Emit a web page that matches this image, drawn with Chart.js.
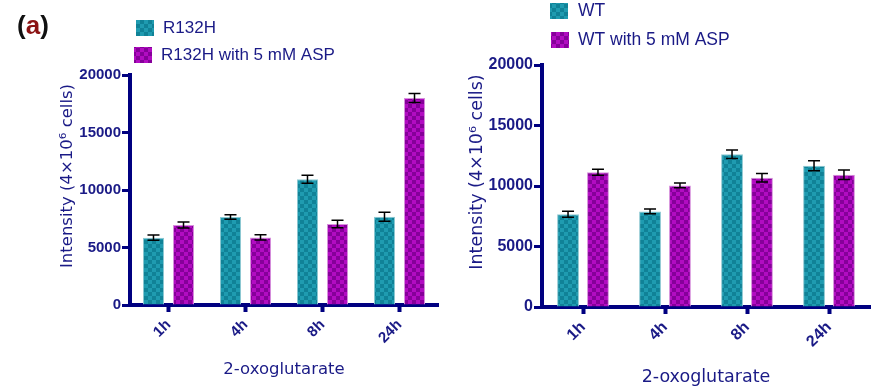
<!DOCTYPE html>
<html>
<head>
<meta charset="utf-8">
<script src="https://cdn.jsdelivr.net/npm/chart.js@4.4.1/dist/chart.umd.min.js"></script>
<style>
  html, body { margin: 0; padding: 0; background: #ffffff; }
  #wrap { position: relative; width: 877px; height: 386px; overflow: hidden; }
  #wrap canvas { position: absolute; top: 0; }
  #panel { position: absolute; left: 17px; top: 10px; font: bold 26px "Liberation Sans", Arial, sans-serif; color: #111111; }
  #panel span { color: #8b1212; }
</style>
</head>
<body>
<div id="wrap">
  <canvas id="chartMutant" width="440" height="386" style="left:0px"></canvas>
  <canvas id="chartWild" width="437" height="386" style="left:440px"></canvas>
  <div id="panel">(<span>a</span>)</div>
</div>
<script>
// ---- data ----
const timePoints = ['1h', '4h', '8h', '24h'];

const r132h       = [5850, 7650, 10930, 7680];
const r132hErr    = [230, 200, 350, 390];
const r132hAsp    = [6950, 5880, 7040, 18000];
const r132hAspErr = [260, 220, 320, 390];

const wt          = [7670, 7900, 12620, 11670];
const wtErr       = [250, 200, 350, 410];
const wtAsp       = [11130, 10050, 10680, 10930];
const wtAspErr    = [250, 200, 350, 400];

const yMax = 20000;
const yStep = 5000;
const xTitle = '2-oxoglutarate';
const yTitle = 'Intensity (4\u00d710\u2076 cells)';

// ---- styling ----
const NAVY = '#000080';
const TEXT = '#1a1a86';

function checker(c1, c2, size) {
  const cv = document.createElement('canvas');
  cv.width = cv.height = size * 2;
  const g = cv.getContext('2d');
  g.fillStyle = c1; g.fillRect(0, 0, size * 2, size * 2);
  g.fillStyle = c2; g.fillRect(0, 0, size, size); g.fillRect(size, size, size, size);
  return g.createPattern(cv, 'repeat');
}
const tealFill = checker('#1f9bb0', '#108297', 4);
const magentaFill = checker('#b20cc2', '#86009a', 4);

// error bars (mean ± error) drawn through the value scale
const errorBarPlugin = {
  id: 'errorBars',
  afterDatasetsDraw(chart) {
    const ctx = chart.ctx;
    const ys = chart.scales.y;
    ctx.save();
    ctx.strokeStyle = '#000000';
    ctx.lineWidth = 1.5;
    chart.data.datasets.forEach((ds, i) => {
      const meta = chart.getDatasetMeta(i);
      meta.data.forEach((bar, j) => {
        const v = ds.data[j], e = ds.errorBars[j];
        const top = ys.getPixelForValue(v + e);
        const bot = ys.getPixelForValue(v - e);
        const x = bar.x, cap = 6;
        ctx.beginPath();
        ctx.moveTo(x, top); ctx.lineTo(x, bot);
        ctx.moveTo(x - cap, top); ctx.lineTo(x + cap, top);
        ctx.moveTo(x - cap, bot); ctx.lineTo(x + cap, bot);
        ctx.stroke();
      });
    });
    ctx.restore();
  }
};

// stacked legend and axis titles
const decorPlugin = {
  id: 'decor',
  afterDraw(chart, args, opts) {
    const ctx = chart.ctx;
    const ca = chart.chartArea;
    ctx.save();
    // legend
    ctx.font = opts.legendFont;
    ctx.textBaseline = 'middle';
    ctx.textAlign = 'left';
    chart.data.datasets.forEach((ds, i) => {
      const p = opts.legend[i];
      ctx.fillStyle = ds.backgroundColor;
      ctx.fillRect(p.x, p.y, 18, 16);
      ctx.fillStyle = TEXT;
      ctx.fillText(ds.label, p.tx, p.y + 8);
    });
    // x title
    ctx.font = opts.titleFont;
    ctx.textAlign = 'center';
    ctx.fillStyle = TEXT;
    ctx.fillText(xTitle, (ca.left + ca.right) / 2, opts.xTitleY);
    // y title
    ctx.translate(opts.yTitleX, opts.yTitleY);
    ctx.rotate(-Math.PI / 2);
    ctx.fillText(yTitle, 0, 0);
    ctx.restore();
  }
};

function buildChart(id, datasets, geo) {
  return new Chart(document.getElementById(id), {
    type: 'bar',
    data: { labels: timePoints, datasets },
    options: {
      responsive: false,
      animation: false,
      devicePixelRatio: 1,
      layout: { padding: { left: 0, top: geo.top, right: geo.right, bottom: 0 } },
      plugins: {
        legend: { display: false },
        tooltip: { enabled: false },
        decor: geo.decor
      },
      datasets: {
        bar: { categoryPercentage: geo.catPct, barPercentage: geo.barPct }
      },
      scales: {
        x: {
          offset: true,
          grid: { offset: false, drawOnChartArea: false, drawTicks: true, tickLength: 7, tickWidth: 4, tickColor: NAVY },
          border: { display: true, color: NAVY, width: 4 },
          ticks: {
            minRotation: 45, maxRotation: 45, padding: 4, color: TEXT,
            font: { family: '"Liberation Sans", Arial, sans-serif', weight: 'bold', size: geo.tickSize }
          },
          afterFit(s) { s.height = geo.xHeight; }
        },
        y: {
          min: 0, max: yMax,
          grid: { drawOnChartArea: false, drawTicks: true, tickLength: 8, tickWidth: 3, tickColor: NAVY },
          border: { display: true, color: NAVY, width: 4 },
          ticks: {
            stepSize: yStep, padding: 1, color: TEXT,
            callback: v => String(v),
            font: { family: '"Liberation Sans", Arial, sans-serif', weight: 'bold', size: geo.tickSize }
          },
          afterFit(s) { s.width = geo.yWidth; }
        }
      }
    },
    plugins: [errorBarPlugin, decorPlugin]
  });
}

buildChart('chartMutant', [
  { label: 'R132H', data: r132h, errorBars: r132hErr, backgroundColor: tealFill, borderColor: '#8cc8d2', borderWidth: 1 },
  { label: 'R132H with 5 mM ASP', data: r132hAsp, errorBars: r132hAspErr, backgroundColor: magentaFill, borderColor: '#d690dc', borderWidth: 1 }
], {
  top: 75, right: 2, yWidth: 130, xHeight: 81,
  catPct: 0.78, barPct: 0.7, tickSize: 15,
  decor: {
    legendFont: '17px "Liberation Sans", Arial, sans-serif',
    legend: [ { x: 136, y: 20, tx: 163 }, { x: 134, y: 47, tx: 161 } ],
    titleFont: '16.5px "DejaVu Sans", sans-serif',
    xTitleY: 370, yTitleX: 68, yTitleY: 176
  }
});

buildChart('chartWild', [
  { label: 'WT', data: wt, errorBars: wtErr, backgroundColor: tealFill, borderColor: '#8cc8d2', borderWidth: 1 },
  { label: 'WT with 5 mM ASP', data: wtAsp, errorBars: wtAspErr, backgroundColor: magentaFill, borderColor: '#d690dc', borderWidth: 1 }
], {
  top: 65, right: 7, yWidth: 102, xHeight: 79,
  catPct: 0.73, barPct: 0.73, tickSize: 16,
  decor: {
    legendFont: '17.5px "Liberation Sans", Arial, sans-serif',
    legend: [ { x: 110, y: 3, tx: 138 }, { x: 111, y: 32, tx: 138 } ],
    titleFont: '17.5px "DejaVu Sans", sans-serif',
    xTitleY: 377, yTitleX: 37, yTitleY: 172
  }
});
</script>
</body>
</html>
